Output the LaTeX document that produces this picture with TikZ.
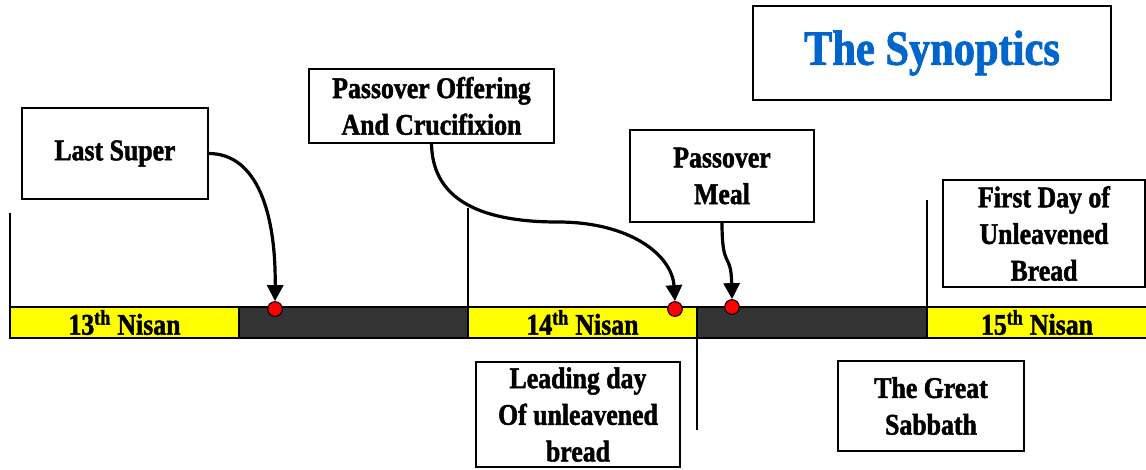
\documentclass[tikz,border=0pt]{standalone}
\usepackage{fontspec}
\newfontfamily\cond{Liberation Serif}[FakeStretch=0.86,BoldFeatures={FakeBold=1.6}]
\usetikzlibrary{arrows.meta}
\definecolor{segyellow}{HTML}{FFFF00}
\definecolor{segdark}{HTML}{333333}
\definecolor{dotred}{HTML}{FF0000}
\definecolor{titleblue}{HTML}{0066CC}
\begin{document}
\begin{tikzpicture}[x=0.75pt,y=-0.75pt,
  box/.style={draw=black,line width=1.4pt,fill=white,inner sep=0pt,outer sep=0pt,align=center,
    font=\cond\bfseries\fontsize{22.5}{27.5}\selectfont},
  seg/.style={draw=black,line width=0.8pt,inner sep=0pt,outer sep=0pt,minimum height=23.25pt,
    font=\cond\bfseries\fontsize{22.5}{26}\selectfont},
  dot/.style={circle,fill=dotred,draw=black,line width=0.8pt,minimum size=11pt,inner sep=0pt},
  arr/.style={line width=2.4pt,-{Triangle[length=12pt,width=12pt]}},
  vline/.style={line width=1.1pt}]
\useasboundingbox (0,0) rectangle (1146,469);
% timeline segments
\node[seg,fill=segyellow,minimum width=171.75pt] (s1) at (124.5,322.5) {13\textsuperscript{th} Nisan};
\node[seg,fill=segdark,minimum width=171.75pt] (s2) at (353.5,322.5) {};
\node[seg,fill=segyellow,minimum width=171.75pt] (s3) at (582.5,322.5) {14\textsuperscript{th} Nisan};
\node[seg,fill=segdark,minimum width=172.5pt] (s4) at (812,322.5) {};
\node[seg,fill=segyellow,minimum width=165pt] (s5) at (1037,322.5) {15\textsuperscript{th} Nisan};
% vertical markers
\coordinate (v1) at (10,213);
\coordinate (v3) at (468,208);
\coordinate (v4) at (697,430);
\coordinate (v5) at (927,200);
\draw[vline] (v1) -- (s1.north west);
\draw[vline] (v3) -- (s3.north west);
\draw[vline] (s4.south west) -- (v4);
\draw[vline] (v5) -- (s5.north west);
% boxes
\node[box,minimum width=139.5pt,minimum height=68.25pt] (ls) at (115,153.5) {Last Super};
\node[box,minimum width=183.75pt,minimum height=55.5pt] (off) at (431.5,106) {Passover Offering\\And Crucifixion};
\node[box,minimum width=138pt,minimum height=69pt] (meal) at (722,176) {Passover\\Meal};
\node[box,minimum width=151.5pt,minimum height=80.25pt] (fd) at (1044,233.5) {First Day of\\Unleavened\\Bread};
\node[box,minimum width=153pt,minimum height=78.75pt] (lead) at (578,414.5) {Leading day\\Of unleavened\\bread};
\node[box,minimum width=268.5pt,minimum height=70.5pt,text=titleblue,font=\cond\bfseries\fontsize{37}{42}\selectfont] (syn) at (932,53) {\raisebox{-3pt}{The Synoptics}};
\node[box,minimum width=139.5pt,minimum height=67.5pt] (gs) at (931,406) {The Great\\Sabbath};
% dots
\node[dot] (d1) at (275,309) {};
\node[dot] (d2) at (675,309) {};
\node[dot] (d3) at (732,307) {};
% connectors
\draw[arr] (ls.east) .. controls (258,153) and (276,215) .. (d1.north);
\draw[arr] (off.south) .. controls (432,205) and (490,222) .. (558,222) .. controls (630,222) and (672,255) .. (d2.north);
\draw[arr] (meal.south) .. controls (722,272) and (731,250) .. (d3.north);
\end{tikzpicture}
\end{document}
